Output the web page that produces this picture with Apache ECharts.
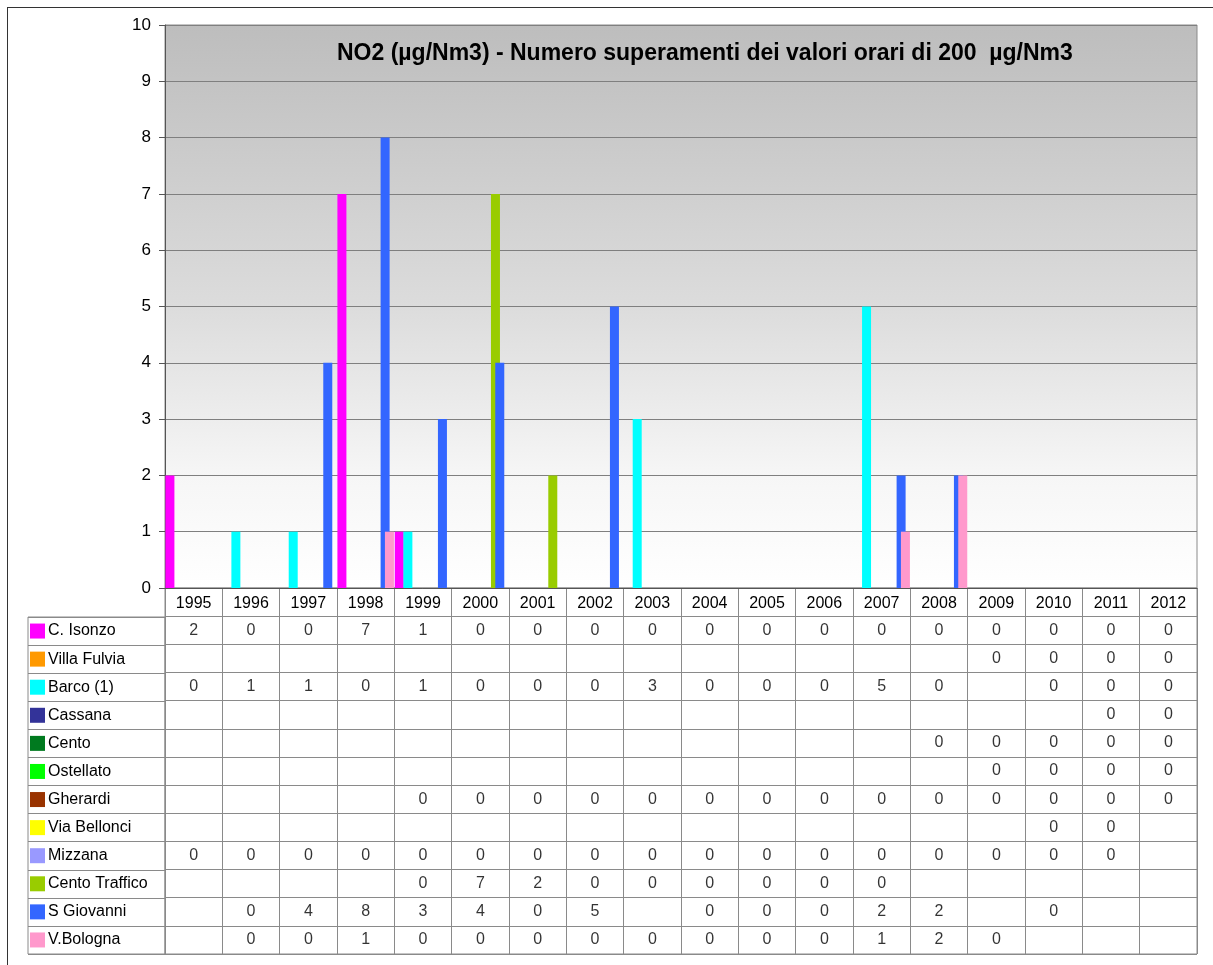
<!DOCTYPE html>
<html><head><meta charset="utf-8">
<script src="https://cdn.jsdelivr.net/npm/echarts/dist/echarts.min.js"></script>
<style>
html,body{margin:0;padding:0;background:#fff;overflow:hidden}
#c{width:1213px;height:965px}
#frame{position:absolute;left:7px;top:7px;width:1300px;height:1000px;border:1px solid #333;pointer-events:none}
</style>
</head><body><div id="c"></div><div id="frame"></div>
<script>
const years = ['1995','1996','1997','1998','1999','2000','2001','2002','2003','2004','2005','2006','2007','2008','2009','2010','2011','2012'];
const stations = ['C. Isonzo','Villa Fulvia','Barco (1)','Cassana','Cento','Ostellato','Gherardi','Via Bellonci','Mizzana','Cento Traffico','S Giovanni','V.Bologna'];
const colors = ['#FF00FF','#FF9900','#00FFFF','#333399','#007A1F','#00FF00','#993300','#FFFF00','#9999FF','#99CC00','#3366FF','#FF99CC'];
const _ = null;
const cIsonzo      = [2,0,0,7,1,0,0,0,0,0,0,0,0,0,0,0,0,0];
const villaFulvia  = [_,_,_,_,_,_,_,_,_,_,_,_,_,_,0,0,0,0];
const barco        = [0,1,1,0,1,0,0,0,3,0,0,0,5,0,_,0,0,0];
const cassana      = [_,_,_,_,_,_,_,_,_,_,_,_,_,_,_,_,0,0];
const cento        = [_,_,_,_,_,_,_,_,_,_,_,_,_,0,0,0,0,0];
const ostellato    = [_,_,_,_,_,_,_,_,_,_,_,_,_,_,0,0,0,0];
const gherardi     = [_,_,_,_,0,0,0,0,0,0,0,0,0,0,0,0,0,0];
const viaBellonci  = [_,_,_,_,_,_,_,_,_,_,_,_,_,_,_,0,0,_];
const mizzana      = [0,0,0,0,0,0,0,0,0,0,0,0,0,0,0,0,0,_];
const centoTraffico= [_,_,_,_,0,7,2,0,0,0,0,0,0,_,_,_,_,_];
const sGiovanni    = [_,0,4,8,3,4,0,5,_,0,0,0,2,2,_,0,_,_];
const vBologna     = [_,0,0,1,0,0,0,0,0,0,0,0,1,2,0,_,_,_];
const yTicks = [0,1,2,3,4,5,6,7,8,9,10];
const titleText = 'NO2 (\u00b5g/Nm3) - Numero superamenti dei valori orari di 200  \u00b5g/Nm3';

const seriesValues = [cIsonzo,villaFulvia,barco,cassana,cento,ostellato,gherardi,viaBellonci,mizzana,centoTraffico,sGiovanni,vBologna];

const FONT = '"Liberation Sans", Arial, sans-serif';
const LINE = '#8a8a8a';

const barSeries = seriesValues.map((vals, i) => ({
  name: stations[i], type: 'bar', xAxisIndex: 0, yAxisIndex: 0,
  data: vals, barWidth: 9, barGap: '-52%',
  itemStyle: {color: colors[i]}, silent: true
}));

const cells = [];
seriesValues.forEach((vals, s) => vals.forEach((v, y) => { if (v !== null) cells.push([y, s + 1, v]); }));

const rich = {t: {fontSize: 16, fontFamily: FONT, color: '#000', padding: [0,0,0,3]}};
colors.forEach((c, i) => { rich['s' + i] = {backgroundColor: c, width: 15, height: 15}; });

const chart = echarts.init(document.getElementById('c'), null, {renderer: 'canvas'});
chart.setOption({
  animation: false,
  title: {text: titleText, left: 332, top: 37, textStyle: {fontSize: 23, fontWeight: 'bold', fontFamily: FONT, color: '#000'}},
  grid: [
    {left: 165, right: 16, top: 25, height: 563, show: true, borderColor: LINE, borderWidth: 1,
     backgroundColor: new echarts.graphic.LinearGradient(0,0,0,1,[
       {offset:0,color:'#BDBDBD'},{offset:0.5,color:'#DCDCDC'},{offset:0.8,color:'#F6F6F6'},{offset:1,color:'#FFFFFF'}])},
    {left: 165, right: 16, top: 588, height: 366, show: true, borderColor: LINE, borderWidth: 1},
    {left: 28, width: 137, top: 617, height: 337, show: true, borderColor: LINE, borderWidth: 1}
  ],
  xAxis: [
    {type: 'category', gridIndex: 0, data: years, axisTick: {show: false},
     axisLine: {lineStyle: {color: '#555'}},
     axisLabel: {margin: 8, fontSize: 16, fontFamily: FONT, color: '#000'}},
    {type: 'category', gridIndex: 1, data: years, axisTick: {show: false}, axisLabel: {show: false},
     axisLine: {show: false}, splitLine: {show: true, lineStyle: {color: LINE}}},
    {type: 'value', gridIndex: 2, show: false}
  ],
  yAxis: [
    {type: 'value', gridIndex: 0, min: yTicks[0], max: yTicks[yTicks.length-1], interval: 1,
     axisLine: {show: true, lineStyle: {color: '#555'}},
     axisTick: {show: true, length: 6, lineStyle: {color: '#555'}},
     axisLabel: {margin: 14, fontSize: 17, fontFamily: FONT, color: '#000'},
     splitLine: {lineStyle: {color: '#7f7f7f'}}},
    {type: 'category', gridIndex: 1, inverse: true, data: [''].concat(stations),
     axisLine: {show: false}, axisTick: {show: false}, axisLabel: {show: false},
     splitLine: {show: true, lineStyle: {color: LINE}}},
    {type: 'category', gridIndex: 2, inverse: true, data: stations,
     axisLine: {show: false}, axisTick: {show: false},
     axisLabel: {inside: true, margin: 2, align: 'left', formatter: (v, i) => '{s' + i + '|}{t|' + v + '}', rich: rich},
     splitLine: {show: true, lineStyle: {color: LINE}}}
  ],
  series: barSeries.concat([{
    type: 'scatter', xAxisIndex: 1, yAxisIndex: 1, data: cells, silent: true,
    symbol: 'rect', symbolSize: 2, itemStyle: {color: 'rgba(0,0,0,0)'},
    label: {show: true, position: 'inside', formatter: p => String(p.value[2]), fontSize: 16, fontFamily: FONT, color: '#000'}
  }])
});
</script>
</body></html>
